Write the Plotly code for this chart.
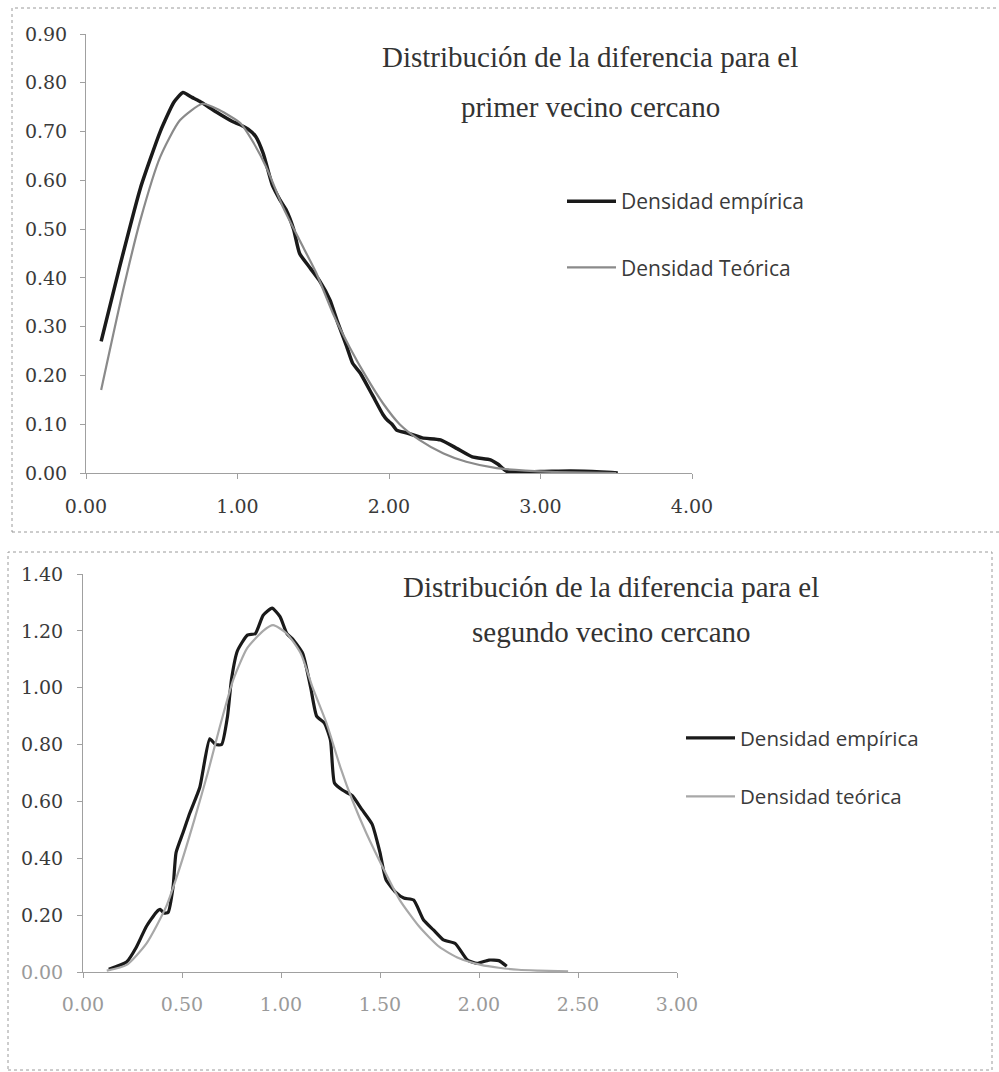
import plotly.graph_objects as go

W, H = 999, 1072

# ---------------- data: top chart (primer vecino) ----------------
x1_emp = [0.10, 0.22, 0.36, 0.49, 0.58, 0.64, 0.70, 0.75, 0.86, 0.97, 1.03, 1.07, 1.12, 1.17,
          1.23, 1.28, 1.32, 1.37, 1.41, 1.48, 1.54, 1.61, 1.66, 1.72, 1.76, 1.81, 1.89, 1.96,
          1.99, 2.02, 2.05, 2.12, 2.22, 2.34, 2.45, 2.55, 2.67, 2.72, 2.78, 3.00, 3.20, 3.40, 3.51]
y1_emp = [0.27, 0.42, 0.585, 0.70, 0.76, 0.78, 0.77, 0.762, 0.74, 0.72, 0.712, 0.705, 0.69, 0.655,
          0.59, 0.56, 0.54, 0.50, 0.45, 0.42, 0.395, 0.355, 0.31, 0.26, 0.225, 0.205, 0.16, 0.12,
          0.108, 0.10, 0.088, 0.082, 0.072, 0.068, 0.05, 0.033, 0.027, 0.018, 0.003, 0.003, 0.004, 0.002, 0.0]

x1_teo = [0.10, 0.245, 0.36, 0.49, 0.62, 0.77, 0.88, 1.02, 1.10, 1.19, 1.30, 1.41, 1.52, 1.63,
          1.74, 1.85, 1.96, 2.07, 2.20, 2.36, 2.51, 2.71, 2.90, 3.10, 3.30, 3.50]
y1_teo = [0.17, 0.375, 0.52, 0.648, 0.723, 0.757, 0.744, 0.717, 0.68, 0.627, 0.545, 0.477, 0.41, 0.327,
          0.258, 0.197, 0.143, 0.10, 0.068, 0.04, 0.023, 0.01, 0.005, 0.002, 0.001, 0.0]

# ---------------- data: bottom chart (segundo vecino) ----------------
x2_emp = [0.13, 0.22, 0.27, 0.32, 0.37, 0.39, 0.41, 0.43, 0.455, 0.47, 0.505, 0.54, 0.59, 0.64,
          0.67, 0.70, 0.73, 0.75, 0.78, 0.83, 0.87, 0.91, 0.955, 0.995, 1.03, 1.06, 1.11, 1.15,
          1.18, 1.22, 1.25, 1.27, 1.31, 1.36, 1.41, 1.46, 1.50, 1.53, 1.58, 1.62, 1.67, 1.72,
          1.77, 1.82, 1.88, 1.94, 1.99, 2.05, 2.10, 2.14]
y2_emp = [0.01, 0.035, 0.088, 0.16, 0.21, 0.22, 0.207, 0.21, 0.30, 0.42, 0.49, 0.56, 0.65, 0.82,
          0.80, 0.80, 0.90, 1.03, 1.13, 1.185, 1.19, 1.255, 1.28, 1.25, 1.19, 1.17, 1.12, 1.00,
          0.90, 0.875, 0.815, 0.665, 0.64, 0.62, 0.57, 0.52, 0.42, 0.325, 0.28, 0.26, 0.253, 0.183,
          0.148, 0.113, 0.10, 0.043, 0.03, 0.042, 0.04, 0.02]

x2_teo = [0.12, 0.22, 0.32, 0.42, 0.49, 0.56, 0.63, 0.69, 0.76, 0.83, 0.91, 0.96, 1.03, 1.10,
          1.16, 1.23, 1.30, 1.36, 1.43, 1.52, 1.60, 1.70, 1.80, 1.90, 2.01, 2.10, 2.20, 2.30, 2.45]
y2_teo = [0.005, 0.025, 0.10, 0.23, 0.37, 0.53, 0.70, 0.86, 1.03, 1.14, 1.20, 1.22, 1.19, 1.12,
          1.00, 0.875, 0.72, 0.605, 0.49, 0.36, 0.253, 0.158, 0.088, 0.048, 0.025, 0.015, 0.008, 0.005, 0.002]

y2_ticks = [0.0, 0.2, 0.4, 0.6, 0.8, 1.0, 1.2, 1.4]

title1 = ["Distribución de la diferencia para el", "primer vecino cercano"]
title2 = ["Distribución de la diferencia para el", "segundo vecino cercano"]
legend1 = ["Densidad empírica", "Densidad Teórica"]
legend2 = ["Densidad empírica", "Densidad teórica"]


def px(x):
    return x / W


def py(y):
    return 1 - y / H


fig = go.Figure()

fig.add_trace(go.Scatter(x=x1_emp, y=y1_emp, mode="lines", name=legend1[0],
                         line=dict(color="#1a1a1a", width=3.5, shape="spline", smoothing=0.5),
                         xaxis="x", yaxis="y", legend="legend", legendgroup="a1"))
fig.add_trace(go.Scatter(x=x1_teo, y=y1_teo, mode="lines", name=legend1[1],
                         line=dict(color="#8a8a8a", width=2.2, shape="spline", smoothing=0.6),
                         xaxis="x", yaxis="y", legend="legend", legendgroup="b1"))
fig.add_trace(go.Scatter(x=x2_emp, y=y2_emp, mode="lines", name=legend2[0],
                         line=dict(color="#1a1a1a", width=3.2, shape="spline", smoothing=0.5),
                         xaxis="x2", yaxis="y2", legend="legend2", legendgroup="a2"))
fig.add_trace(go.Scatter(x=x2_teo, y=y2_teo, mode="lines", name=legend2[1],
                         line=dict(color="#a8a8a8", width=2.2, shape="spline", smoothing=0.6),
                         xaxis="x2", yaxis="y2", legend="legend2", legendgroup="b2"))

tickfont_dark = dict(family="DejaVu Serif", size=19, color="#3a3a3a")
tickfont_gray = dict(family="DejaVu Serif", size=19, color="#9a9a9a")
axis_common = dict(showgrid=False, zeroline=False, showline=True, linecolor="#a0a0a0",
                   linewidth=1, ticks="outside", ticklen=5, tickcolor="#a0a0a0",
                   tickformat=".2f", fixedrange=True, automargin=False)

y2_text = [('<span style="color:#9a9a9a">%.2f</span>' % v) if v == 0 else "%.2f" % v for v in y2_ticks]

fig.update_layout(
    width=W, height=H,
    autosize=False,
    margin=dict(l=0, r=0, t=0, b=0, pad=0, autoexpand=False),
    paper_bgcolor="white", plot_bgcolor="white",
    xaxis=dict(domain=[px(86), px(692)], range=[0, 4], dtick=1, anchor="y",
               tickfont=tickfont_dark, ticklabelstandoff=11, **axis_common),
    yaxis=dict(domain=[py(473), py(34)], range=[0, 0.9], dtick=0.1, anchor="x",
               tickfont=tickfont_dark, ticklabelstandoff=9, **axis_common),
    xaxis2=dict(domain=[px(83), px(677)], range=[0, 3], dtick=0.5, anchor="y2",
                tickfont=tickfont_gray, ticklabelstandoff=10, **axis_common),
    yaxis2=dict(domain=[py(972), py(574)], range=[0, 1.4], anchor="x2",
                tickmode="array", tickvals=y2_ticks, ticktext=y2_text,
                tickfont=tickfont_dark, ticklabelstandoff=10, **axis_common),
    legend=dict(x=px(562), y=py(181), xanchor="left", yanchor="top",
                traceorder="grouped", tracegroupgap=36, itemwidth=49, bgcolor="rgba(0,0,0,0)",
                font=dict(family="Open Sans", size=21, color="#3a3a3a")),
    legend2=dict(x=px(681), y=py(718), xanchor="left", yanchor="top",
                 traceorder="grouped", tracegroupgap=29, itemwidth=49, bgcolor="rgba(0,0,0,0)",
                 font=dict(family="Open Sans", size=20.5, color="#3a3a3a")),
    showlegend=True,
)

# chart-area borders (dotted, like the scanned Excel frames)
fig.add_shape(type="rect", xref="paper", yref="paper",
              x0=px(12), x1=px(1010), y0=py(532), y1=py(8),
              line=dict(color="#9a9a9a", width=1, dash="dot"), layer="below")
fig.add_shape(type="rect", xref="paper", yref="paper",
              x0=px(8), x1=px(992), y0=py(1070), y1=py(552),
              line=dict(color="#9a9a9a", width=1, dash="dot"), layer="below")

tfont = dict(family="Liberation Serif", size=29, color="#333333")
for txt, yy in zip(title1, [57, 107]):
    fig.add_annotation(text=txt, xref="paper", yref="paper", x=px(590), y=py(yy),
                       xanchor="center", yanchor="middle", showarrow=False, font=tfont)
for txt, yy in zip(title2, [587, 632]):
    fig.add_annotation(text=txt, xref="paper", yref="paper", x=px(611), y=py(yy),
                       xanchor="center", yanchor="middle", showarrow=False, font=tfont)

fig.write_html("out.html")
